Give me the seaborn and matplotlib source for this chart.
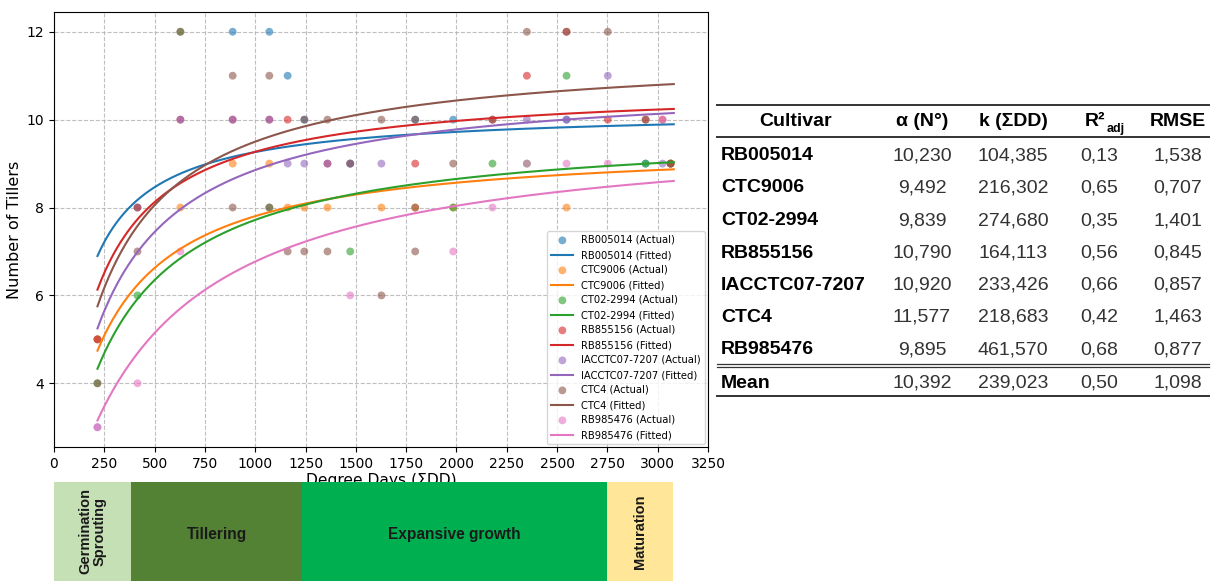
import numpy as np
import pandas as pd
import matplotlib
matplotlib.use("Agg")
import matplotlib.pyplot as plt
import seaborn as sns

# Cultivars and fitted model parameters: tillers = alpha * DD / (k + DD)
cultivars = ["RB005014", "CTC9006", "CT02-2994", "RB855156", "IACCTC07-7207", "CTC4", "RB985476"]
alpha_n = [10.230, 9.492, 9.839, 10.790, 10.920, 11.577, 9.895]
k_dd = [104.385, 216.302, 274.680, 164.113, 233.426, 218.683, 461.570]
r2_adj = [0.13, 0.65, 0.35, 0.56, 0.66, 0.42, 0.68]
rmse = [1.538, 0.707, 1.401, 0.845, 0.857, 1.463, 0.877]
mean_row = [10.392, 239.023, 0.50, 1.098]

# Field counts of tillers against accumulated degree days
dd_rb005014 = [216, 415, 888, 1070, 1161, 1244, 1472, 1795, 1984, 2547, 2940]
n_rb005014 = [5, 8, 12, 12, 11, 10, 9, 10, 10, 10, 9]
dd_ctc9006 = [216, 628, 888, 1070, 1161, 1244, 1359, 1627, 1795, 1984, 2547, 3064]
n_ctc9006 = [5, 8, 9, 9, 8, 8, 8, 8, 8, 8, 8, 9]
dd_ct022994 = [216, 415, 628, 1070, 1472, 1984, 2179, 2350, 2547, 2940, 3064]
n_ct022994 = [4, 6, 12, 8, 7, 8, 9, 9, 11, 9, 9]
dd_rb855156 = [216, 415, 628, 888, 1070, 1161, 1359, 1795, 2179, 2350, 2547, 2752, 2940, 3024, 3064]
n_rb855156 = [5, 8, 10, 10, 10, 10, 9, 9, 10, 11, 12, 10, 10, 10, 9]
dd_iacctc = [216, 628, 888, 1070, 1161, 1244, 1359, 1472, 1627, 2350, 2547, 2752, 3024]
n_iacctc = [3, 10, 10, 10, 9, 9, 9, 9, 9, 10, 10, 11, 9]
dd_ctc4 = [216, 415, 628, 888, 888, 1070, 1070, 1161, 1244, 1244, 1359, 1359, 1472, 1627,
           1627, 1795, 1795, 1795, 1984, 2179, 2350, 2547, 2752, 2940, 3064]
n_ctc4 = [4, 7, 12, 11, 8, 11, 8, 7, 10, 7, 10, 7, 9, 10, 6, 10, 7, 8, 9, 10, 12, 12, 12, 10, 9]
dd_rb985476 = [216, 415, 628, 1472, 1984, 2179, 2350, 2547, 2752, 3024]
n_rb985476 = [3, 4, 7, 6, 7, 8, 9, 9, 9, 10]

obs_dd = [dd_rb005014, dd_ctc9006, dd_ct022994, dd_rb855156, dd_iacctc, dd_ctc4, dd_rb985476]
obs_n = [n_rb005014, n_ctc9006, n_ct022994, n_rb855156, n_iacctc, n_ctc4, n_rb985476]

# Crop development phases along the degree-day axis
phase_names = ["Germination\nSprouting", "Tillering", "Expansive growth", "Maturation"]
phase_edges = [0, 384, 1233, 2748, 3074]
phase_colors = ["#c5e0b4", "#548235", "#00b050", "#ffe699"]
phase_vertical = [True, False, False, True]

fit_range = (216, 3080)

W, H = 1211, 581
fig = plt.figure(figsize=(W / 100, H / 100), dpi=100)
palette = sns.color_palette("tab10", len(cultivars))

ax = fig.add_axes([54 / W, 1 - 447 / H, (708 - 54) / W, (447 - 12) / H])
ax.grid(True, linestyle="--", color="#b0b0b0", linewidth=0.8, alpha=0.8)
ax.set_axisbelow(True)

dd_fit = np.linspace(fit_range[0], fit_range[1], 300)
for i, name in enumerate(cultivars):
    obs = pd.DataFrame({"dd": obs_dd[i], "n": obs_n[i]})
    sns.scatterplot(data=obs, x="dd", y="n", color=palette[i], alpha=0.6, s=32,
                    edgecolor="none", label=f"{name} (Actual)", ax=ax)
    fit = pd.DataFrame({"dd": dd_fit, "n": alpha_n[i] * dd_fit / (k_dd[i] + dd_fit)})
    sns.lineplot(data=fit, x="dd", y="n", color=palette[i], linewidth=1.5,
                 label=f"{name} (Fitted)", ax=ax)

ax.set_xlim(0, 3250)
ax.set_xticks(np.arange(0, 3251, 250))
ax.set_ylim(2.55, 12.45)
ax.set_yticks([4, 6, 8, 10, 12])
ax.set_xlabel("Degree Days (\u03a3DD)", fontsize=11.2, labelpad=1.5)
ax.set_ylabel("Number of Tillers", fontsize=11.5, labelpad=3)
ax.tick_params(labelsize=10)
ax.legend(loc="lower right", fontsize=7.2, borderaxespad=0.3, labelspacing=0.5,
          handlelength=2.2, framealpha=0.8)

# Phase strip under the degree-day axis
axp = fig.add_axes([54 / W, 0, (708 - 54) / W, (H - 482) / H])
axp.set_xlim(0, 3250)
axp.set_ylim(0, 1)
axp.axis("off")
for i, name in enumerate(phase_names):
    x0, x1 = phase_edges[i], phase_edges[i + 1]
    axp.barh(0.5, x1 - x0, left=x0, height=1.0, color=phase_colors[i], edgecolor="none")
    if phase_vertical[i]:
        axp.text((x0 + x1) / 2, 0.5, name, rotation=90, ha="center", va="center",
                 fontsize=10.5, fontweight="bold", family=["Liberation Sans", "DejaVu Sans"],
                 color="#1a1a1a", linespacing=1.0)
    else:
        axp.text((x0 + x1) / 2, 0.47, name, ha="center", va="center", fontsize=11.2,
                 fontweight="bold", family=["Liberation Sans", "DejaVu Sans"],
                 color="#1a1a1a")

# Parameter table
axt = fig.add_axes([0, 0, 1, 1])
axt.set_xlim(0, W)
axt.set_ylim(H, 0)
axt.axis("off")
tf = ["Liberation Sans", "DejaVu Sans"]
fs = 14
x_name = 721
x_cols = [922, 1013, 1099, 1178]

axt.plot([717, 1209], [105, 105], color="#333333", lw=1.4)
axt.plot([717, 1209], [137, 137], color="#333333", lw=1.4)
axt.plot([717, 1209], [364, 364], color="#333333", lw=0.9)
axt.plot([717, 1209], [367, 367], color="#333333", lw=0.9)
axt.plot([717, 1209], [396, 396], color="#333333", lw=1.4)

y_head = 122
axt.text(796, y_head, "Cultivar", ha="center", va="center", fontsize=fs, fontweight="bold", family=tf)
axt.text(x_cols[0], y_head, "\u03b1 (N\u00b0)", ha="center", va="center", fontsize=fs, fontweight="bold", family=tf)
axt.text(x_cols[1], y_head, "k (\u03a3DD)", ha="center", va="center", fontsize=fs, fontweight="bold", family=tf)
axt.text(1105, y_head, "R\u00b2", ha="right", va="center", fontsize=fs, fontweight="bold", family=tf)
axt.text(1107, y_head + 7, "adj", ha="left", va="center", fontsize=9, fontweight="bold", family=tf)
axt.text(x_cols[3], y_head, "RMSE", ha="center", va="center", fontsize=fs, fontweight="bold", family=tf)


def fmt(v, nd):
    return f"{v:.{nd}f}".replace(".", ",")


row_y = [156, 188, 220.5, 253, 285.5, 317.5, 350]
for i, name in enumerate(cultivars):
    y = row_y[i]
    axt.text(x_name, y, name, ha="left", va="center", fontsize=fs, fontweight="bold", family=tf)
    vals = [fmt(alpha_n[i], 3), fmt(k_dd[i], 3), fmt(r2_adj[i], 2), fmt(rmse[i], 3)]
    for xc, v in zip(x_cols, vals):
        axt.text(xc, y, v, ha="center", va="center", fontsize=fs, family=tf, color="#333333")

y_mean = 383
axt.text(x_name, y_mean, "Mean", ha="left", va="center", fontsize=fs, fontweight="bold", family=tf)
for xc, v in zip(x_cols, [fmt(mean_row[0], 3), fmt(mean_row[1], 3), fmt(mean_row[2], 2), fmt(mean_row[3], 3)]):
    axt.text(xc, y_mean, v, ha="center", va="center", fontsize=fs, family=tf, color="#333333")

fig.savefig("out.png", dpi=100)
